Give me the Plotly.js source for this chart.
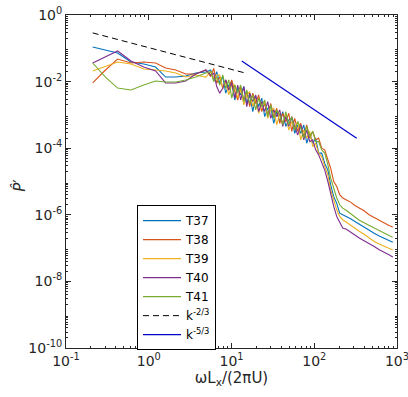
<!DOCTYPE html>
<html>
<head>
<meta charset="utf-8">
<script src="https://cdn.plot.ly/plotly-3.0.1.min.js"></script>
<style>
  body { margin: 0; background: #fff; }
  #chart { width: 408px; height: 397px; }
</style>
</head>
<body>
<div id="chart"></div>
<script>
// normalised frequency, shared by all runs
var freq = [0.21, 0.30, 0.42, 0.61, 0.87, 1.21, 1.60, 2.12, 2.80, 3.70, 4.89,
  5.61, 6.10, 6.63, 7.21, 7.84, 8.52, 9.26, 10.07, 10.95, 11.9, 12.9, 14.1, 15.3, 16.6, 18.1,
  19.6, 21.3, 23.2, 25.2, 27.4, 29.8, 32.4, 35.2, 38.3, 41.6, 45.3, 49.2, 53.5, 58.1, 63.2,
  68.7, 74.7, 81.1, 88.3, 95.9, 104, 113, 123, 134, 146, 158, 172, 187, 203, 221,
  245, 275, 310, 350, 400, 460, 530, 610, 700, 800, 890];

var t37 = [0.109, 0.089, 0.072, 0.0388, 0.0338, 0.0274, 0.0137, 0.0137, 0.0147, 0.0181, 0.0194,
  2.24e-2, 1.12e-2, 2.0e-2, 8.9e-3, 1.41e-2, 4.5e-3, 7.9e-3, 1.0e-2, 2.8e-3, 6.3e-3, 4.0e-3,
  7.1e-3, 2.2e-3, 4.0e-3, 1.26e-3, 3.5e-3, 1.78e-3, 3.2e-3, 8.9e-4, 1.58e-3, 1.78e-3, 5.6e-4,
  1.26e-3, 6.3e-4, 1.26e-3, 4.5e-4, 7.1e-4, 7.9e-4, 2.8e-4, 5.0e-4, 2.8e-4, 5.0e-4, 1.41e-4,
  2.8e-4, 1.41e-4, 2.0e-4, 7.1e-5, 7.1e-5, 3.5e-5, 2.2e-5, 7.9e-6, 3.5e-6, 2.2e-6, 1.12e-6, 1.0e-6,
  8.9e-7, 7.6e-7, 6.3e-7, 5.2e-7, 4.4e-7, 3.5e-7, 2.8e-7, 2.3e-7, 2.0e-7, 1.7e-7, 1.5e-7];

var t38 = [0.0091, 0.0223, 0.0477, 0.0362, 0.0388, 0.0362, 0.0256, 0.0223, 0.0169, 0.0169, 0.0223,
  1.41e-2, 2.5e-2, 8.9e-3, 1.41e-2, 6.3e-3, 1.12e-2, 5.6e-3, 1.12e-2, 5.0e-3, 2.8e-3, 7.1e-3,
  2.8e-3, 5.0e-3, 1.78e-3, 4.5e-3, 2.2e-3, 4.0e-3, 1.26e-3, 2.2e-3, 1.0e-3, 2.2e-3, 8.9e-4,
  1.58e-3, 5.6e-4, 1.12e-3, 6.3e-4, 1.12e-3, 3.2e-4, 7.9e-4, 3.2e-4, 5.6e-4, 2.2e-4, 5.0e-4,
  2.0e-4, 3.2e-4, 1.78e-4, 2.0e-4, 1.0e-4, 8.9e-5, 4.5e-5, 2.5e-5, 1.0e-5, 7.1e-6, 4.0e-6, 3.2e-6,
  2.8e-6, 2.4e-6, 1.9e-6, 1.58e-6, 1.32e-6, 1.0e-6, 8.3e-7, 6.6e-7, 5.6e-7, 4.8e-7, 4.3e-7];

var t39 = [0.0208, 0.0294, 0.0388, 0.0338, 0.0239, 0.0223, 0.0208, 0.0181, 0.0137, 0.0158, 0.0137,
  2.0e-2, 1.26e-2, 1.58e-2, 1.58e-2, 6.3e-3, 1.0e-2, 4.0e-3, 7.9e-3, 7.9e-3, 3.2e-3, 5.6e-3,
  2.0e-3, 4.0e-3, 5.0e-3, 1.78e-3, 3.2e-3, 1.12e-3, 2.2e-3, 2.5e-3, 7.9e-4, 1.41e-3, 1.58e-3,
  5.0e-4, 1.12e-3, 5.6e-4, 1.0e-3, 3.5e-4, 6.3e-4, 4.0e-4, 6.3e-4, 1.78e-4, 3.5e-4, 2.0e-4,
  3.2e-4, 1.12e-4, 1.41e-4, 7.1e-5, 5.6e-5, 2.8e-5, 1.58e-5, 5.6e-6, 2.8e-6, 1.41e-6, 8.9e-7, 7.1e-7,
  6.0e-7, 4.8e-7, 3.8e-7, 3.2e-7, 2.6e-7, 2.0e-7, 1.58e-7, 1.32e-7, 1.12e-7, 9.8e-8, 8.7e-8];

var t40 = [0.0362, 0.0548, 0.083, 0.0416, 0.0274, 0.0208, 0.0091, 0.0091, 0.0104, 0.0169, 0.0223,
  1.58e-2, 1.78e-2, 7.1e-3, 4.5e-3, 6.3e-3, 1.12e-2, 5.6e-3, 8.9e-3, 3.2e-3, 7.9e-3, 2.8e-3,
  7.1e-3, 1.78e-3, 4.5e-3, 2.5e-3, 4.0e-3, 1.26e-3, 2.5e-3, 1.26e-3, 2.5e-3, 7.9e-4, 1.41e-3,
  8.9e-4, 1.41e-3, 4.5e-4, 8.9e-4, 4.5e-4, 8.9e-4, 4.5e-4, 2.5e-4, 5.0e-4, 1.78e-4, 3.5e-4,
  1.58e-4, 1.78e-4, 8.9e-5, 6.3e-5, 3.5e-5, 2.2e-5, 1.0e-5, 4.0e-6, 1.78e-6, 8.9e-7, 6.3e-7, 4.0e-7,
  3.7e-7, 3.0e-7, 2.4e-7, 2.0e-7, 1.66e-7, 1.38e-7, 1.12e-7, 8.9e-8, 7.6e-8, 6.3e-8, 5.4e-8];

var t41 = [0.0362, 0.0137, 0.0064, 0.0056, 0.0079, 0.0104, 0.0097, 0.0097, 0.0112, 0.0137, 0.0181,
  2.0e-2, 1.0e-2, 1.41e-2, 7.9e-3, 1.58e-2, 6.3e-3, 1.12e-2, 3.2e-3, 7.9e-3, 4.5e-3, 7.9e-3,
  2.5e-3, 5.6e-3, 2.2e-3, 4.0e-3, 1.41e-3, 3.2e-3, 1.78e-3, 2.8e-3, 8.9e-4, 2.0e-3, 7.9e-4,
  1.41e-3, 1.0e-3, 5.0e-4, 1.26e-3, 5.0e-4, 8.9e-4, 3.5e-4, 6.3e-4, 4.0e-4, 2.0e-4, 4.5e-4,
  2.2e-4, 3.2e-4, 1.58e-4, 1.58e-4, 8.9e-5, 7.1e-5, 3.2e-5, 1.26e-5, 6.3e-6, 3.2e-6, 2.0e-6, 1.58e-6,
  1.35e-6, 1.07e-6, 8.3e-7, 6.9e-7, 5.8e-7, 4.8e-7, 4.0e-7, 3.3e-7, 2.8e-7, 2.4e-7, 2.1e-7];

// reference slopes
var k23x = [0.21, 14.8];
var k23y = [0.29, 0.018];
var k53x = [13.3, 326];
var k53y = [0.0417, 2.0e-4];

var xTickExp = [-1, 0, 1, 2, 3];
var yTickExp = [-10, -8, -6, -4, -2, 0];

var runNames = ['T37', 'T38', 'T39', 'T40', 'T41'];
var runData = [t37, t38, t39, t40, t41];
var colors = ['#0072BD', '#D95319', '#EDB120', '#7E2F8E', '#77AC30'];

var traces = [];
for (var i = 0; i < runNames.length; i++) {
  traces.push({
    x: freq,
    y: runData[i],
    type: 'scatter',
    mode: 'lines',
    name: runNames[i],
    line: {color: colors[i], width: 1.1}
  });
}
traces.push({
  x: k23x, y: k23y, type: 'scatter', mode: 'lines',
  name: 'k<sup>-2/3</sup>',
  line: {color: 'black', width: 1, dash: '6px,4px'}
});
traces.push({
  x: k53x, y: k53y, type: 'scatter', mode: 'lines',
  name: 'k<sup>-5/3</sup>',
  line: {color: '#0000CC', width: 1.2}
});

// log minor ticks (2..9 in every decade)
function minorVals(lo, hi) {
  var v = [];
  for (var d = lo; d < hi; d++) {
    for (var k = 2; k <= 9; k++) v.push(k * Math.pow(10, d));
  }
  return v;
}

function axis(exps, lo, hi) {
  return {
    type: 'log',
    range: [lo - 0.0001, hi + 0.0001],
    tickmode: 'array',
    tickvals: exps.map(function(e) { return Math.pow(10, e); }),
    ticktext: exps.map(function(e) { return '10<sup>' + e + '</sup>'; }),
    ticks: 'inside', ticklen: 5, tickcolor: '#262626',
    ticklabeloverflow: 'allow',
    showline: true, linecolor: '#262626', linewidth: 1, mirror: 'ticks',
    showgrid: false, zeroline: false,
    tickfont: {size: 14, color: '#262626'},
    minor: {
      tickmode: 'array',
      tickvals: minorVals(lo, hi),
      ticks: 'inside', ticklen: 2, tickcolor: '#262626', showgrid: false
    }
  };
}

var xaxis = axis(xTickExp, -1, 3);
xaxis.title = {text: 'ωL<sub>x</sub>/(2πU)', font: {size: 15, color: '#262626'}, standoff: 4};
var yaxis = axis(yTickExp, -10, 0);

var layout = {
  width: 408,
  height: 397,
  margin: {l: 66, r: 11, t: 15, b: 49},
  paper_bgcolor: 'white',
  plot_bgcolor: 'white',
  font: {family: 'DejaVu Sans, sans-serif', size: 12, color: '#262626'},
  showlegend: true,
  legend: {
    x: 0.2145, y: 0.429, xanchor: 'left', yanchor: 'top',
    bgcolor: 'white', bordercolor: 'black', borderwidth: 1,
    font: {size: 12, color: 'black'},
    itemwidth: 38,
    tracegroupgap: 0
  },
  annotations: [{
    text: '<i>P̂</i>\u2032',
    xref: 'paper', yref: 'paper', x: -0.139, y: 0.49,
    xanchor: 'center', yanchor: 'middle',
    textangle: -90, showarrow: false,
    font: {size: 15, color: '#262626'}
  }],
  xaxis: xaxis,
  yaxis: yaxis
};

Plotly.newPlot('chart', traces, layout, {staticPlot: true});
</script>
</body>
</html>
